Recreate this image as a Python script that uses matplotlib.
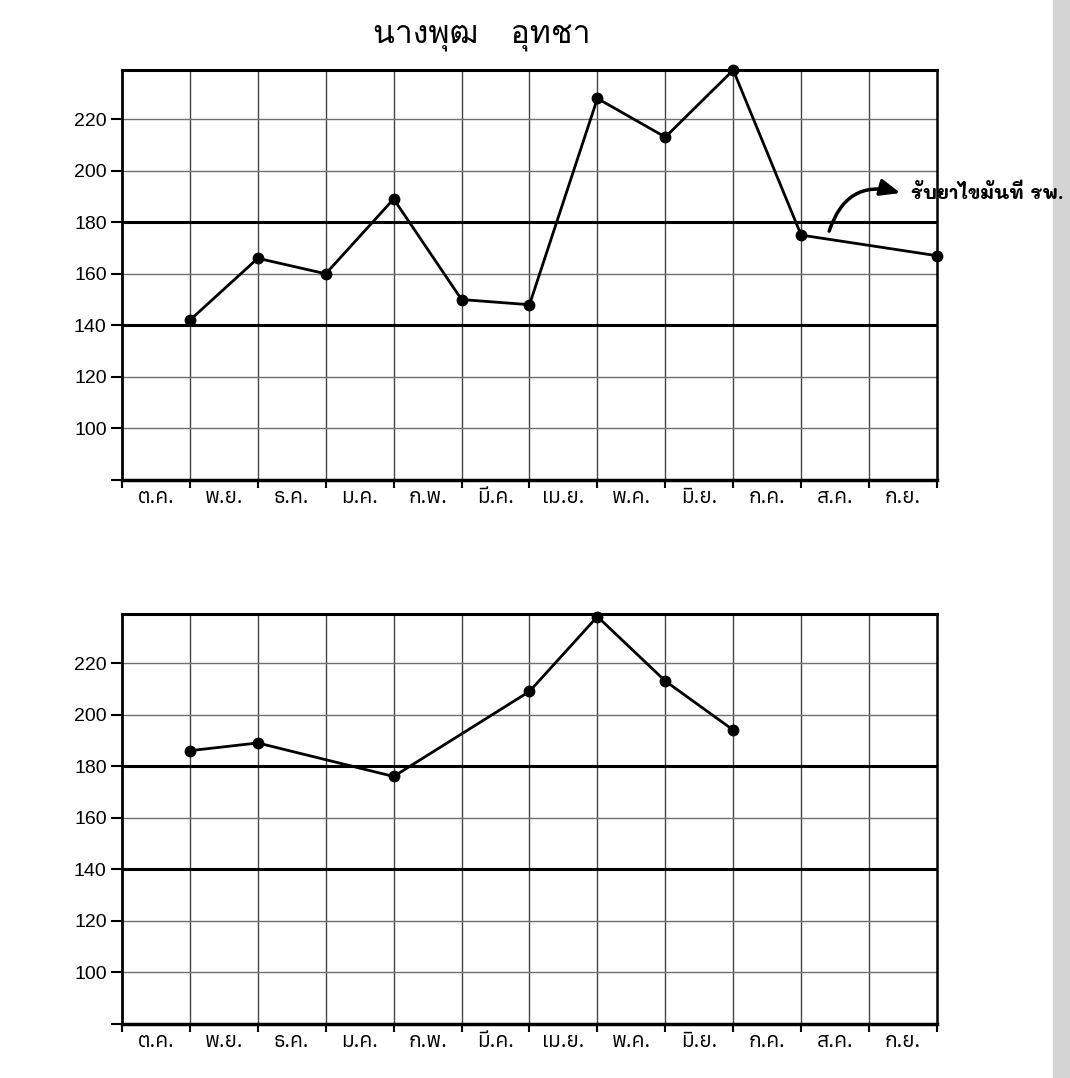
import matplotlib
matplotlib.use("Agg")
import matplotlib.pyplot as plt
from matplotlib import font_manager
from matplotlib.patches import Rectangle


def find_thai_fonts():
    # look through installed fonts for ones that have Thai glyphs
    found = []
    try:
        from fontTools.ttLib import TTFont
    except ImportError:
        return found
    for f in font_manager.fontManager.ttflist:
        try:
            tt = TTFont(f.fname, fontNumber=0, lazy=True)
            cmap = tt.getBestCmap()
            if cmap and 0x0E01 in cmap:
                found.append(f.name)
        except Exception:
            pass
    return sorted(set(found))


def pick(preferred, available):
    for name in preferred:
        if name in available:
            return [name, "DejaVu Sans"]
    return available[:1] + ["DejaVu Sans"]


thai_fonts = find_thai_fonts()
title_family = pick(["Loma", "Noto Sans Thai Looped", "Anuphan"], thai_fonts)
label_family = pick(["Anuphan", "Kanit", "Loma"], thai_fonts)
note_family = pick(["Mali", "Itim", "Sriracha", "Charmonman"], thai_fonts)

# chart data
title = "นางพุฒ   อุทชา"
months = ["ต.ค.", "พ.ย.", "ธ.ค.", "ม.ค.", "ก.พ.", "มี.ค.",
          "เม.ย.", "พ.ค.", "มิ.ย.", "ก.ค.", "ส.ค.", "ก.ย."]
y_ticks = [80, 100, 120, 140, 160, 180, 200, 220]
ref_lines = [140, 180]

top_x = [1, 2, 3, 4, 5, 6, 7, 8, 9, 10, 12]
top_y = [142, 166, 160, 189, 150, 148, 228, 213, 239, 175, 167]

bottom_x = [1, 2, 4, 6, 7, 8, 9]
bottom_y = [186, 189, 176, 209, 238, 213, 194]

note_text = "รับยาไขมันที่ รพ."

plt.rcParams['font.family'] = ['Liberation Sans', 'DejaVu Sans']

fig = plt.figure(figsize=(10.7, 10.78), dpi=100)
fig.patch.set_facecolor('white')


def draw_panel(ax, xs, ys):
    ax.set_xlim(0, 12)
    ax.set_ylim(80, 239)

    # grid
    for x in range(1, 12):
        ax.axvline(x, color='#444444', lw=1.0, zorder=1)
    for y in y_ticks[1:]:
        if y in ref_lines:
            ax.axhline(y, color='black', lw=2.2, zorder=2)
        else:
            ax.axhline(y, color='#707070', lw=1.0, zorder=1)

    ax.plot(xs, ys, color='black', lw=2.0, marker='o', markersize=7.5, zorder=3,
            clip_on=False)

    ax.set_yticks(y_ticks)
    ax.set_yticklabels([''] + [str(v) for v in y_ticks[1:]], fontsize=14)
    ax.set_xticks(range(13))
    ax.set_xticklabels([''] * 13)
    ax.set_xticks([i + 0.5 for i in range(12)], minor=True)
    ax.set_xticklabels(months, minor=True, fontsize=15, family=label_family)
    ax.tick_params(axis='x', which='major', direction='out', length=6, width=1.5)
    ax.tick_params(axis='x', which='minor', length=0, pad=6)
    ax.tick_params(axis='y', direction='out', length=8, width=1.5, pad=3)

    for side in ['left', 'bottom', 'top', 'right']:
        ax.spines[side].set_color('black')
    ax.spines['left'].set_linewidth(2.0)
    ax.spines['bottom'].set_linewidth(2.5)
    ax.spines['top'].set_linewidth(2.2)
    ax.spines['right'].set_linewidth(1.8)


ax1 = fig.add_axes([0.1140, 0.5547, 0.7617, 0.3803])
draw_panel(ax1, top_x, top_y)

ax2 = fig.add_axes([0.1140, 0.0501, 0.7617, 0.3803])
draw_panel(ax2, bottom_x, bottom_y)

fig.text(0.450, 0.966, title, ha='center', va='center', fontsize=23,
         family=title_family)

# hand written note with curved arrow
ax1.annotate('', xy=(11.5, 191), xytext=(10.4, 175.5),
             arrowprops=dict(arrowstyle='-|>,head_length=1.2,head_width=0.5',
                             color='black', lw=2.5,
                             connectionstyle='arc3,rad=-0.5'),
             annotation_clip=False)
ax1.text(11.62, 191, note_text, ha='left', va='center', fontsize=13.5,
         fontweight='bold', family=note_family, clip_on=False)

# grey edge of the scanned page
fig.add_artist(Rectangle((0.984, 0), 0.016, 1, transform=fig.transFigure,
                         color='#d4d4d4', zorder=0))

fig.savefig('out.png', dpi=100)
